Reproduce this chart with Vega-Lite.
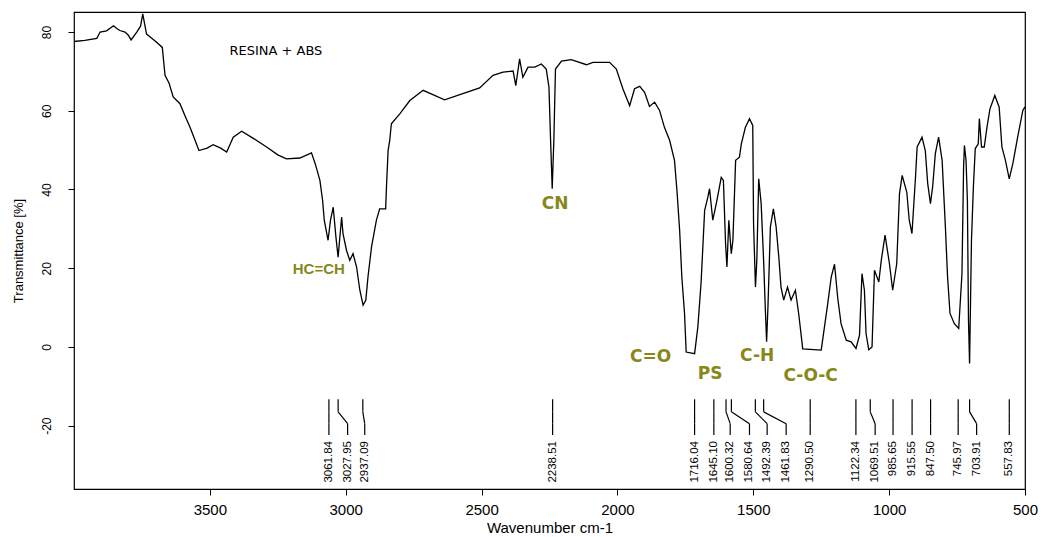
{
  "$schema": "https://vega.github.io/schema/vega-lite/v6.json",
  "width": 951,
  "height": 477,
  "autosize": {"type": "none"},
  "padding": {"left": 74, "top": 12, "right": 17, "bottom": 48},
  "background": "white",
  "config": {
    "view": {"stroke": "#000", "strokeWidth": 1.2},
    "font": "Liberation Sans"
  },
  "datasets": {
    "spec": [
      {"wn": 4000, "T": 77.6}, {"wn": 3960, "T": 77.9}, {"wn": 3916, "T": 78.4}, {"wn": 3904, "T": 80.0},
      {"wn": 3880, "T": 80.3}, {"wn": 3855, "T": 81.6}, {"wn": 3840, "T": 80.8}, {"wn": 3831, "T": 80.4},
      {"wn": 3812, "T": 80.0}, {"wn": 3800, "T": 79.2}, {"wn": 3790, "T": 78.0}, {"wn": 3769, "T": 80.0},
      {"wn": 3755, "T": 81.5}, {"wn": 3747, "T": 84.6}, {"wn": 3733, "T": 79.5}, {"wn": 3715, "T": 78.5},
      {"wn": 3696, "T": 77.4}, {"wn": 3675, "T": 76.1}, {"wn": 3665, "T": 69.0}, {"wn": 3650, "T": 67.0},
      {"wn": 3635, "T": 63.5}, {"wn": 3610, "T": 61.8}, {"wn": 3590, "T": 58.5}, {"wn": 3573, "T": 55.8},
      {"wn": 3540, "T": 49.9}, {"wn": 3510, "T": 50.5}, {"wn": 3488, "T": 51.4}, {"wn": 3460, "T": 50.5},
      {"wn": 3438, "T": 49.5}, {"wn": 3414, "T": 53.3}, {"wn": 3383, "T": 54.8}, {"wn": 3340, "T": 53.0},
      {"wn": 3291, "T": 50.8}, {"wn": 3250, "T": 48.8}, {"wn": 3218, "T": 47.8}, {"wn": 3169, "T": 48.0},
      {"wn": 3126, "T": 49.3}, {"wn": 3112, "T": 46.5}, {"wn": 3095, "T": 42.3}, {"wn": 3085, "T": 37.2},
      {"wn": 3079, "T": 32.2}, {"wn": 3065, "T": 27.1}, {"wn": 3056, "T": 32.2}, {"wn": 3046, "T": 35.5},
      {"wn": 3036, "T": 27.9}, {"wn": 3028, "T": 22.8}, {"wn": 3015, "T": 33.0}, {"wn": 3010, "T": 28.8},
      {"wn": 2997, "T": 24.5}, {"wn": 2985, "T": 22.0}, {"wn": 2973, "T": 23.7}, {"wn": 2960, "T": 20.3},
      {"wn": 2948, "T": 14.4}, {"wn": 2936, "T": 10.6}, {"wn": 2926, "T": 11.9}, {"wn": 2918, "T": 17.8},
      {"wn": 2905, "T": 25.4}, {"wn": 2887, "T": 32.2}, {"wn": 2875, "T": 35.1}, {"wn": 2853, "T": 35.1},
      {"wn": 2850, "T": 40.6}, {"wn": 2844, "T": 49.9}, {"wn": 2838, "T": 52.5}, {"wn": 2832, "T": 56.7},
      {"wn": 2801, "T": 59.2}, {"wn": 2764, "T": 62.6}, {"wn": 2715, "T": 65.2}, {"wn": 2636, "T": 62.8},
      {"wn": 2580, "T": 64.1}, {"wn": 2507, "T": 65.8}, {"wn": 2458, "T": 69.0}, {"wn": 2421, "T": 69.8},
      {"wn": 2384, "T": 70.1}, {"wn": 2374, "T": 66.4}, {"wn": 2360, "T": 73.2}, {"wn": 2348, "T": 68.5},
      {"wn": 2329, "T": 71.1}, {"wn": 2304, "T": 71.1}, {"wn": 2280, "T": 71.9}, {"wn": 2262, "T": 70.6},
      {"wn": 2252, "T": 66.0}, {"wn": 2246, "T": 52.5}, {"wn": 2240, "T": 40.2}, {"wn": 2234, "T": 52.5},
      {"wn": 2228, "T": 70.6}, {"wn": 2206, "T": 72.6}, {"wn": 2170, "T": 73.0}, {"wn": 2114, "T": 71.7},
      {"wn": 2090, "T": 72.3}, {"wn": 2029, "T": 72.3}, {"wn": 2004, "T": 70.6}, {"wn": 1980, "T": 65.6},
      {"wn": 1955, "T": 61.3}, {"wn": 1937, "T": 65.6}, {"wn": 1918, "T": 66.2}, {"wn": 1900, "T": 64.7},
      {"wn": 1882, "T": 61.1}, {"wn": 1863, "T": 62.2}, {"wn": 1845, "T": 60.1}, {"wn": 1827, "T": 55.8},
      {"wn": 1808, "T": 52.5}, {"wn": 1790, "T": 47.4}, {"wn": 1781, "T": 39.8}, {"wn": 1771, "T": 29.6},
      {"wn": 1763, "T": 17.8}, {"wn": 1753, "T": 8.5}, {"wn": 1747, "T": -1.3}, {"wn": 1716, "T": -1.7},
      {"wn": 1704, "T": 5.1}, {"wn": 1692, "T": 16.5}, {"wn": 1679, "T": 34.7}, {"wn": 1667, "T": 38.1},
      {"wn": 1661, "T": 40.2}, {"wn": 1649, "T": 32.2}, {"wn": 1634, "T": 37.2}, {"wn": 1618, "T": 43.1},
      {"wn": 1610, "T": 42.3}, {"wn": 1602, "T": 26.2}, {"wn": 1597, "T": 20.3}, {"wn": 1590, "T": 32.2},
      {"wn": 1581, "T": 23.7}, {"wn": 1575, "T": 27.1}, {"wn": 1565, "T": 47.4}, {"wn": 1551, "T": 48.2},
      {"wn": 1544, "T": 51.6}, {"wn": 1529, "T": 55.8}, {"wn": 1514, "T": 58.0}, {"wn": 1502, "T": 56.3},
      {"wn": 1499, "T": 31.3}, {"wn": 1492, "T": 15.2}, {"wn": 1487, "T": 22.0}, {"wn": 1480, "T": 42.7},
      {"wn": 1471, "T": 36.4}, {"wn": 1462, "T": 22.0}, {"wn": 1456, "T": 10.2}, {"wn": 1451, "T": 1.3},
      {"wn": 1446, "T": 10.2}, {"wn": 1437, "T": 30.5}, {"wn": 1426, "T": 35.1}, {"wn": 1416, "T": 30.5},
      {"wn": 1406, "T": 22.8}, {"wn": 1398, "T": 15.2}, {"wn": 1388, "T": 11.9}, {"wn": 1374, "T": 15.2},
      {"wn": 1361, "T": 11.9}, {"wn": 1345, "T": 14.4}, {"wn": 1333, "T": 8.5}, {"wn": 1318, "T": -0.5},
      {"wn": 1250, "T": -0.8}, {"wn": 1238, "T": 5.1}, {"wn": 1226, "T": 11.0}, {"wn": 1213, "T": 17.8},
      {"wn": 1201, "T": 21.0}, {"wn": 1189, "T": 12.3}, {"wn": 1177, "T": 5.9}, {"wn": 1158, "T": 1.7},
      {"wn": 1140, "T": 1.3}, {"wn": 1122, "T": -0.4}, {"wn": 1109, "T": 3.0}, {"wn": 1100, "T": 18.6},
      {"wn": 1091, "T": 14.4}, {"wn": 1085, "T": 3.4}, {"wn": 1075, "T": -0.7}, {"wn": 1063, "T": 0.0},
      {"wn": 1054, "T": 19.5}, {"wn": 1038, "T": 16.5}, {"wn": 1029, "T": 22.0}, {"wn": 1015, "T": 28.4},
      {"wn": 999, "T": 21.2}, {"wn": 987, "T": 14.4}, {"wn": 972, "T": 21.2}, {"wn": 962, "T": 38.9},
      {"wn": 952, "T": 43.6}, {"wn": 935, "T": 39.3}, {"wn": 926, "T": 32.2}, {"wn": 916, "T": 28.8},
      {"wn": 903, "T": 43.1}, {"wn": 897, "T": 50.8}, {"wn": 879, "T": 53.3}, {"wn": 867, "T": 49.9},
      {"wn": 858, "T": 41.5}, {"wn": 848, "T": 36.4}, {"wn": 840, "T": 40.6}, {"wn": 830, "T": 49.1},
      {"wn": 818, "T": 53.3}, {"wn": 805, "T": 47.4}, {"wn": 793, "T": 30.5}, {"wn": 785, "T": 17.8},
      {"wn": 776, "T": 8.5}, {"wn": 760, "T": 5.9}, {"wn": 744, "T": 4.7}, {"wn": 732, "T": 18.6},
      {"wn": 726, "T": 45.7}, {"wn": 723, "T": 51.2}, {"wn": 717, "T": 47.4}, {"wn": 712, "T": 37.2},
      {"wn": 708, "T": 6.8}, {"wn": 704, "T": -4.2}, {"wn": 697, "T": 27.1}, {"wn": 690, "T": 40.6},
      {"wn": 683, "T": 50.4}, {"wn": 672, "T": 51.6}, {"wn": 668, "T": 58.0}, {"wn": 660, "T": 50.8},
      {"wn": 650, "T": 50.8}, {"wn": 640, "T": 55.8}, {"wn": 629, "T": 60.5}, {"wn": 611, "T": 63.9},
      {"wn": 595, "T": 60.9}, {"wn": 585, "T": 50.8}, {"wn": 572, "T": 47.4}, {"wn": 558, "T": 42.7},
      {"wn": 545, "T": 46.5}, {"wn": 527, "T": 53.3}, {"wn": 508, "T": 60.1}, {"wn": 500, "T": 61.0}
    ],
    "peaks": [
      {"p": 3061.84, "l": 3061.84, "t": "3061.84"},
      {"p": 3027.95, "l": 2993, "t": "3027.95"},
      {"p": 2937.09, "l": 2930, "t": "2937.09"},
      {"p": 2238.51, "l": 2238.51, "t": "2238.51"},
      {"p": 1716.04, "l": 1716.04, "t": "1716.04"},
      {"p": 1645.10, "l": 1645.10, "t": "1645.10"},
      {"p": 1600.32, "l": 1585, "t": "1600.32"},
      {"p": 1580.64, "l": 1514, "t": "1580.64"},
      {"p": 1492.39, "l": 1449, "t": "1492.39"},
      {"p": 1461.83, "l": 1379, "t": "1461.83"},
      {"p": 1290.50, "l": 1290.50, "t": "1290.50"},
      {"p": 1122.34, "l": 1122.34, "t": "1122.34"},
      {"p": 1069.51, "l": 1051.5, "t": "1069.51"},
      {"p": 985.65, "l": 985.65, "t": "985.65"},
      {"p": 915.55, "l": 915.55, "t": "915.55"},
      {"p": 847.50, "l": 847.50, "t": "847.50"},
      {"p": 745.97, "l": 745.97, "t": "745.97"},
      {"p": 703.91, "l": 678, "t": "703.91"},
      {"p": 557.83, "l": 557.83, "t": "557.83"}
    ],
    "groups": [
      {"label": "CN", "wn": 2229, "T": 36.2},
      {"label": "C=O", "wn": 1878, "T": -2.5},
      {"label": "PS", "wn": 1659, "T": -6.9},
      {"label": "C-H", "wn": 1486, "T": -2.4},
      {"label": "C-O-C", "wn": 1289, "T": -7.4}
    ],
    "groups2": [
      {"label": "HC=CH", "wn": 3099, "T": 19.7}
    ]
  },
  "layer": [
    {
      "data": {"name": "spec"},
      "mark": {"type": "line", "stroke": "#000", "strokeWidth": 1.3, "interpolate": "linear"},
      "encoding": {
        "x": {
          "field": "wn", "type": "quantitative",
          "scale": {"domain": [500, 4000], "reverse": true, "nice": false, "zero": false},
          "axis": {
            "values": [3500, 3000, 2500, 2000, 1500, 1000, 500],
            "labelExpr": "'' + datum.value",
            "title": "Wavenumber cm-1",
            "domain": false, "grid": false,
            "ticks": true, "tickSize": 6, "tickColor": "#000", "tickWidth": 1,
            "labelFont": "Liberation Sans", "labelFontSize": 15, "labelColor": "#000",
            "labelPadding": 7, "labelFlush": false, "labelOverlap": false,
            "titleFont": "Liberation Sans", "titleFontSize": 15, "titleFontWeight": "normal",
            "titleColor": "#000", "titleY": 38, "titleBaseline": "middle"
          }
        },
        "y": {
          "field": "T", "type": "quantitative",
          "scale": {"domain": [-36.1, 85.1], "nice": false, "zero": false},
          "axis": {
            "values": [80, 60, 40, 20, 0, -20],
            "labelExpr": "'' + datum.value",
            "title": "Transmittance [%]",
            "domain": false, "grid": false,
            "ticks": true, "tickSize": 6, "tickColor": "#000", "tickWidth": 1,
            "labelFont": "Liberation Sans", "labelFontSize": 12, "labelColor": "#000",
            "labelAngle": 270, "labelAlign": "center", "labelBaseline": "bottom",
            "labelPadding": 15, "labelFlush": false, "labelOverlap": false,
            "titleFont": "Liberation Sans", "titleFontSize": 13, "titleFontWeight": "normal",
            "titleColor": "#000", "titleAngle": 270, "titleX": -56, "titleBaseline": "middle"
          }
        }
      }
    },
    {
      "data": {"name": "peaks"},
      "mark": {"type": "rule", "stroke": "#000", "strokeWidth": 1.2},
      "encoding": {
        "x": {"field": "p", "type": "quantitative"},
        "y": {"datum": -13.3},
        "y2": {"datum": -16.5}
      }
    },
    {
      "data": {"name": "peaks"},
      "mark": {"type": "rule", "stroke": "#000", "strokeWidth": 1.2},
      "encoding": {
        "x": {"field": "p", "type": "quantitative"},
        "x2": {"field": "l"},
        "y": {"datum": -16.5},
        "y2": {"datum": -19.5}
      }
    },
    {
      "data": {"name": "peaks"},
      "mark": {"type": "rule", "stroke": "#000", "strokeWidth": 1.2},
      "encoding": {
        "x": {"field": "l", "type": "quantitative"},
        "y": {"datum": -19.5},
        "y2": {"datum": -22.4}
      }
    },
    {
      "data": {"name": "peaks"},
      "mark": {"type": "text", "angle": 270, "align": "right", "baseline": "middle", "font": "Liberation Sans", "fontSize": 11.5, "color": "#000"},
      "encoding": {
        "x": {"field": "l", "type": "quantitative"},
        "y": {"datum": -23.9},
        "text": {"field": "t"}
      }
    },
    {
      "data": {"name": "groups"},
      "mark": {"type": "text", "align": "center", "baseline": "middle", "font": "DejaVu Sans", "fontWeight": "bold", "fontSize": 17, "color": "#87871a"},
      "encoding": {
        "x": {"field": "wn", "type": "quantitative"},
        "y": {"field": "T", "type": "quantitative"},
        "text": {"field": "label"}
      }
    },
    {
      "data": {"name": "groups2"},
      "mark": {"type": "text", "align": "center", "baseline": "middle", "font": "Liberation Sans", "fontWeight": "bold", "fontSize": 15, "color": "#87871a"},
      "encoding": {
        "x": {"field": "wn", "type": "quantitative"},
        "y": {"field": "T", "type": "quantitative"},
        "text": {"field": "label"}
      }
    },
    {
      "data": {"values": [{}]},
      "mark": {"type": "text", "align": "center", "baseline": "middle", "font": "DejaVu Sans", "fontSize": 13, "color": "#000", "text": "RESINA + ABS"},
      "encoding": {
        "x": {"datum": 3257},
        "y": {"datum": 75.3}
      }
    }
  ]
}
